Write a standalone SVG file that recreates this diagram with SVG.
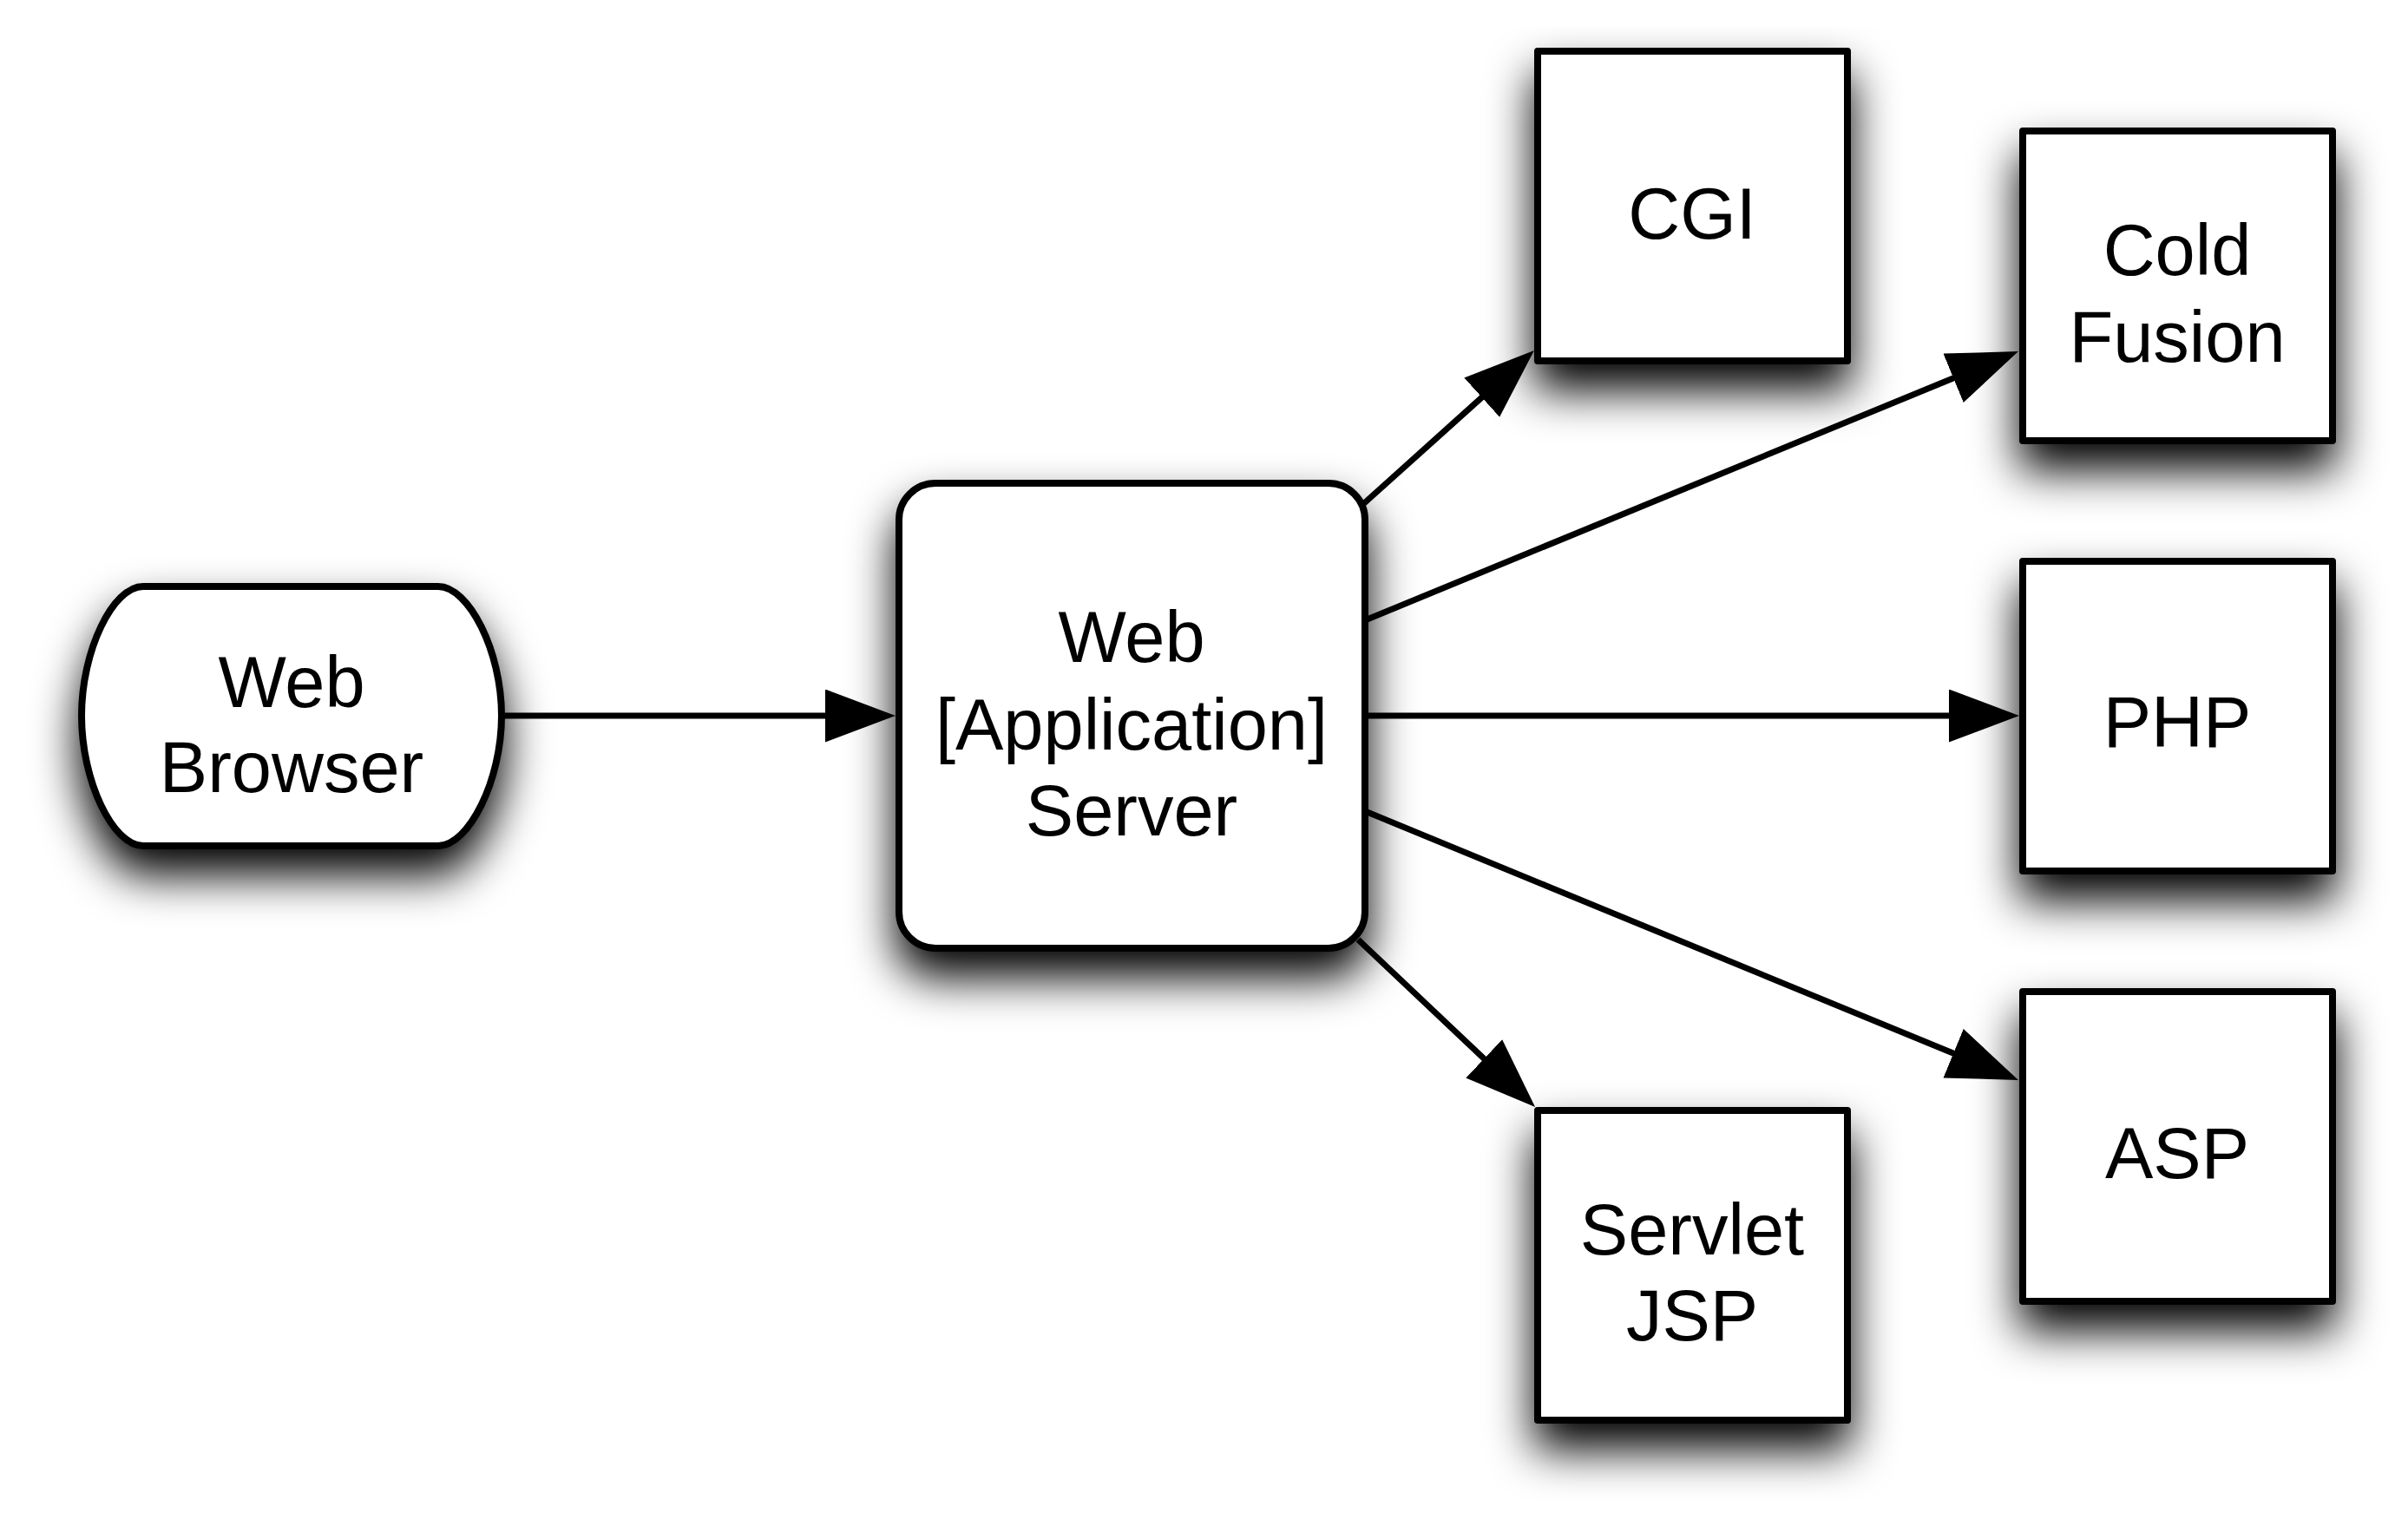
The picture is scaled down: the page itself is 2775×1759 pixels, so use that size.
<svg xmlns="http://www.w3.org/2000/svg" width="2775" height="1759" viewBox="0 0 2775 1759">
<style>
.shape{fill:#fff;stroke:#000;stroke-width:8;stroke-linejoin:round;filter:url(#shadow)}
.lbl{font-family:"Liberation Sans",Arial,Helvetica,sans-serif;font-size:83px;fill:#000;text-anchor:middle}
.conn{stroke:#000;stroke-width:7;fill:none;marker-end:url(#arrow)}
</style>
<defs>
<filter id="shadow" filterUnits="userSpaceOnUse" x="0" y="0" width="2775" height="1759">
<feGaussianBlur in="SourceAlpha" stdDeviation="26"/>
<feOffset dx="0" dy="30" result="b"/>
<feComponentTransfer in="b" result="s"><feFuncA type="linear" slope="1"/></feComponentTransfer>
<feMerge><feMergeNode in="s"/><feMergeNode in="SourceGraphic"/></feMerge>
</filter>
<marker id="arrow" markerUnits="userSpaceOnUse" markerWidth="82" markerHeight="62" refX="41" refY="30.5" orient="auto">
<path d="M0,0 L81,30.5 L0,61 Z" fill="#000"/>
</marker>
</defs>
<rect width="2775" height="1759" fill="#fff"/>
<g id="connectors">
<line class="conn" x1="578" y1="825" x2="992" y2="825"/>
<line class="conn" x1="1571" y1="581" x2="1738.2" y2="430.7"/>
<line class="conn" x1="1573" y1="715" x2="2289" y2="420.2"/>
<line class="conn" x1="1573" y1="825" x2="2287" y2="825"/>
<line class="conn" x1="1573" y1="935" x2="2289" y2="1229.8"/>
<line class="conn" x1="1565" y1="1083" x2="1740" y2="1248.5"/>
</g>
<g id="web-browser">
<path class="shape" d="M165,676 L505,676 C540,676 578,750 578,825 C578,900 540,975 505,975 L165,975 C130,975 94,900 94,825 C94,750 130,676 165,676 Z"/>
<text class="lbl" x="336" y="815">Web</text>
<text class="lbl" x="336" y="913">Browser</text>
</g>
<g id="web-app-server">
<rect class="shape" x="1036" y="557" width="537" height="536" rx="42" ry="42"/>
<text class="lbl" x="1304" y="763">Web</text>
<text class="lbl" x="1304" y="864">[Application]</text>
<text class="lbl" x="1304" y="963">Server</text>
</g>
<g id="cgi">
<rect class="shape" x="1772" y="59" width="357" height="357"/>
<text class="lbl" x="1950" y="275">CGI</text>
</g>
<g id="cold-fusion">
<rect class="shape" x="2331" y="151" width="357" height="357"/>
<text class="lbl" x="2509" y="317">Cold</text>
<text class="lbl" x="2509" y="417">Fusion</text>
</g>
<g id="php">
<rect class="shape" x="2331" y="647" width="357" height="357"/>
<text class="lbl" x="2509" y="861">PHP</text>
</g>
<g id="asp">
<rect class="shape" x="2331" y="1143" width="357" height="357"/>
<text class="lbl" x="2509" y="1358">ASP</text>
</g>
<g id="servlet-jsp">
<rect class="shape" x="1772" y="1280" width="357" height="357"/>
<text class="lbl" x="1950" y="1446">Servlet</text>
<text class="lbl" x="1950" y="1545">JSP</text>
</g>
</svg>
